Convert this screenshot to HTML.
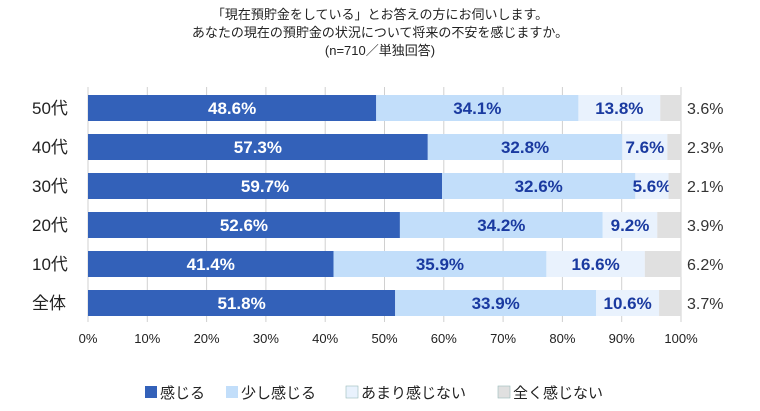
<!DOCTYPE html>
<html><head><meta charset="utf-8"><style>
body{margin:0;width:760px;height:406px;background:#fff;font-family:"Liberation Sans","Noto Sans CJK JP",sans-serif;overflow:hidden}
svg text{font-family:"Liberation Sans","Noto Sans CJK JP",sans-serif}
</style></head><body>
<svg id="c" width="760" height="406">
<g fill="#222" font-size="13" text-anchor="middle">
<text x="380" y="19">「現在預貯金をしている」とお答えの方にお伺いします。</text>
<text x="380" y="37">あなたの現在の預貯金の状況について将来の不安を感じますか。</text>
<text x="380" y="55">(n=710／単独回答)</text>
</g>
<g id="grid"></g><g id="bars"></g><g id="ticks"></g><g id="legend"></g>
</svg>
<script>
const categories=["50代","40代","30代","20代","10代","全体"];
const s1=[48.6,57.3,59.7,52.6,41.4,51.8];
const s2=[34.1,32.8,32.6,34.2,35.9,33.9];
const s3=[13.8,7.6,5.6,9.2,16.6,10.6];
const s4=[3.6,2.3,2.1,3.9,6.2,3.7];
const seriesNames=["感じる","少し感じる","あまり感じない","全く感じない"];
const tickLabels=["0%","10%","20%","30%","40%","50%","60%","70%","80%","90%","100%"];
const NS="http://www.w3.org/2000/svg";
const x0=88,x1=681,y0=108,step=39;
const xs=v=>x0+(x1-x0)*v/100;
const yc=i=>y0+i*step;
const colors=["#3361b9","#c2defa","#e9f2fd","#e0e0e0"];
function mk(t,a,p){const e=document.createElementNS(NS,t);for(const k in a)e.setAttribute(k,a[k]);p.appendChild(e);return e;}
const grid=document.getElementById('grid');
tickLabels.forEach((t,i)=>{const x=xs(i*10);
 const l=mk('line',{x1:x,x2:x,y1:87,y2:322,stroke:'#d0d0d0','stroke-width':1},grid);
 
 
 const tx=mk('text',{x:x,y:343,'text-anchor':'middle','font-size':13,fill:'#222'},document.getElementById('ticks'));
 tx.textContent=t;
 
 
});
const bars=document.getElementById('bars');
const series=[s1,s2,s3,s4];
categories.forEach((c,i)=>{
 const y=yc(i);
 const cl=mk('text',{x:32,y:y+6,'font-size':17,fill:'#222'},bars);cl.textContent=c;
 
 
 let acc=0;
 series.forEach((s,k)=>{
  const v=s[i];
  const r=mk('rect',{x:xs(acc),y:y-13,width:xs(acc+v)-xs(acc),height:26,fill:colors[k]},bars);
  
  
  const lb=mk('text',{'font-size':17,'font-weight':'bold',y:y+6},bars);
  lb.textContent=v.toFixed(1)+'%';
  
  
  if(k===3){lb.setAttribute('x',687);lb.setAttribute('fill','#333');lb.setAttribute('font-weight','normal');lb.setAttribute('font-size',16);}
  else{lb.setAttribute('x',(xs(acc)+xs(acc+v))/2);lb.setAttribute('text-anchor','middle');lb.setAttribute('fill',k===0?'#fff':'#1a3aa0');}
  acc+=v;
 });
});
const lg=document.getElementById('legend');
const lx=[145,226,346,498];
seriesNames.forEach((n,k)=>{
 const r=mk('rect',{x:lx[k],y:386,width:12,height:12,fill:colors[k],stroke:k>=2?'#9bb':'none','stroke-width':0.6},lg);
 
 
 const t=mk('text',{x:lx[k]+15,y:398,'font-size':15,fill:'#222'},lg);t.textContent=n;
 
 
});
</script>
</body></html>
